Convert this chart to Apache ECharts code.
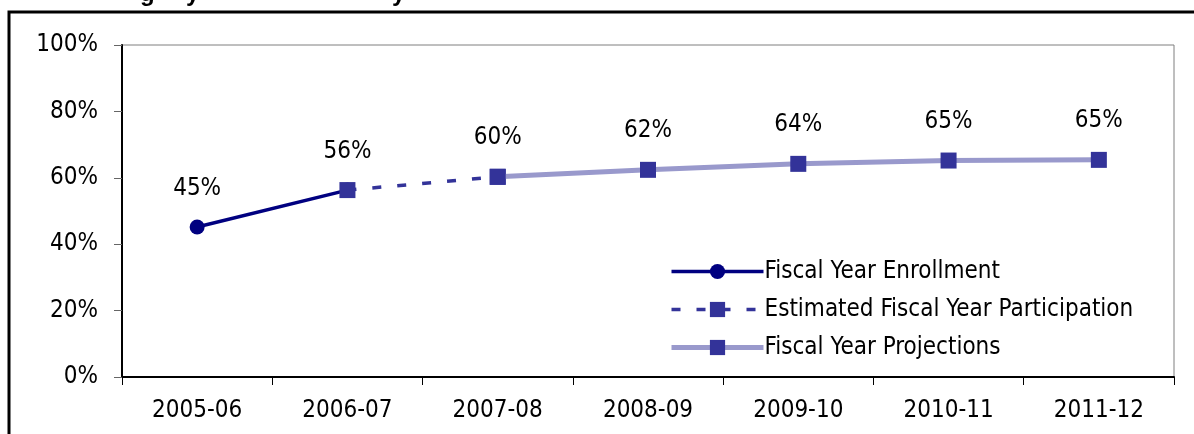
<!DOCTYPE html>
<html>
<head>
<meta charset="utf-8">
<script src="https://cdn.jsdelivr.net/npm/echarts@6/dist/echarts.min.js"></script>
<style>
html,body{margin:0;padding:0;background:#fff;}
#c{width:1194px;height:434px;}
</style>
</head>
<body>
<div id="c"></div>
<script>
const categories = ['2005-06','2006-07','2007-08','2008-09','2009-10','2010-11','2011-12'];
const enrollment = [0.452, 0.563, null, null, null, null, null];
const estimated = [null, 0.563, 0.603, null, null, null, null];
const projections = [null, null, 0.603, 0.624, 0.642, 0.652, 0.654];
const seriesNames = ['Fiscal Year Enrollment','Estimated Fiscal Year Participation','Fiscal Year Projections'];
const yTicks = [0, 0.2, 0.4, 0.6, 0.8, 1.0];

const FONT = '"Liberation Sans Narrow", "DejaVu Sans Condensed", "Liberation Sans", sans-serif';
const pct = v => Math.round(v * 100) + '%';

const chart = echarts.init(document.getElementById('c'));
const labelCfg = {
  show: true, position: 'top', distance: 19,
  fontFamily: FONT, fontSize: 24, color: '#000',
  formatter: p => pct(p.value)
};
chart.setOption({
  animation: false,
  backgroundColor: '#fff',
  grid: {left: 122, right: 20, top: 45, bottom: 57, show: true, borderColor: '#7f7f7f', borderWidth: 1},
  xAxis: {
    type: 'category', data: categories, boundaryGap: true,
    axisLine: {lineStyle: {color: '#000', width: 2}},
    axisTick: {show: true, length: 8, lineStyle: {color: '#000', width: 1}},
    axisLabel: {fontFamily: FONT, fontSize: 24, color: '#000', margin: 22}
  },
  yAxis: {
    type: 'value', min: yTicks[0], max: yTicks[yTicks.length - 1], interval: 0.2,
    axisLine: {show: true, lineStyle: {color: '#000', width: 2}},
    axisTick: {show: true, length: 8, lineStyle: {color: '#666', width: 1}},
    splitLine: {show: false},
    axisLabel: {fontFamily: FONT, fontSize: 24, color: '#000', margin: 24, formatter: v => pct(v)}
  },
  legend: {
    orient: 'vertical', left: 664, top: 254,
    itemWidth: 92, itemHeight: 19, itemGap: 13,
    textStyle: {fontFamily: FONT, fontSize: 24, color: '#000', lineHeight: 25, padding: [0,0,0,-4]},
    data: [
      {name: seriesNames[0], lineStyle: {width: 3.5, color: '#000080'}},
      {name: seriesNames[1], lineStyle: {width: 3.5, color: '#333399', type: [9, 16]}},
      {name: seriesNames[2], lineStyle: {width: 5, color: '#9999cc'}}
    ]
  },
  graphic: [
    {type: 'polyline', shape: {points: [[9, 434], [9, 12], [1194, 12]]}, style: {stroke: '#000', lineWidth: 3, fill: null}, z: 100},
    {type: 'text', left: 140, top: -18, style: {text: 'g', fontFamily: '"Liberation Sans", Arial, sans-serif', fontWeight: 'bold', fontSize: 24, fill: '#000'}},
    {type: 'text', left: 186, top: -18, style: {text: 'y', fontFamily: '"Liberation Sans", Arial, sans-serif', fontWeight: 'bold', fontSize: 24, fill: '#000'}},
    {type: 'text', left: 392, top: -18, style: {text: 'y', fontFamily: '"Liberation Sans", Arial, sans-serif', fontWeight: 'bold', fontSize: 24, fill: '#000'}}
  ],
  series: [
    {
      name: seriesNames[0], type: 'line', data: enrollment,
      symbol: 'circle', symbolSize: 15, showAllSymbol: true,
      lineStyle: {color: '#000080', width: 3.5},
      itemStyle: {color: '#000080'},
      label: labelCfg, z: 2
    },
    {
      name: seriesNames[1], type: 'line', data: estimated,
      symbol: 'rect', symbolSize: 16,
      lineStyle: {color: '#333399', width: 3.5, type: [9, 16]},
      itemStyle: {color: '#333399'},
      label: {show: false}, z: 3
    },
    {
      name: seriesNames[2], type: 'line', data: projections,
      symbol: 'rect', symbolSize: 16,
      lineStyle: {color: '#9999cc', width: 5},
      itemStyle: {color: '#333399'},
      label: labelCfg, z: 4
    }
  ]
});
</script>
</body>
</html>
